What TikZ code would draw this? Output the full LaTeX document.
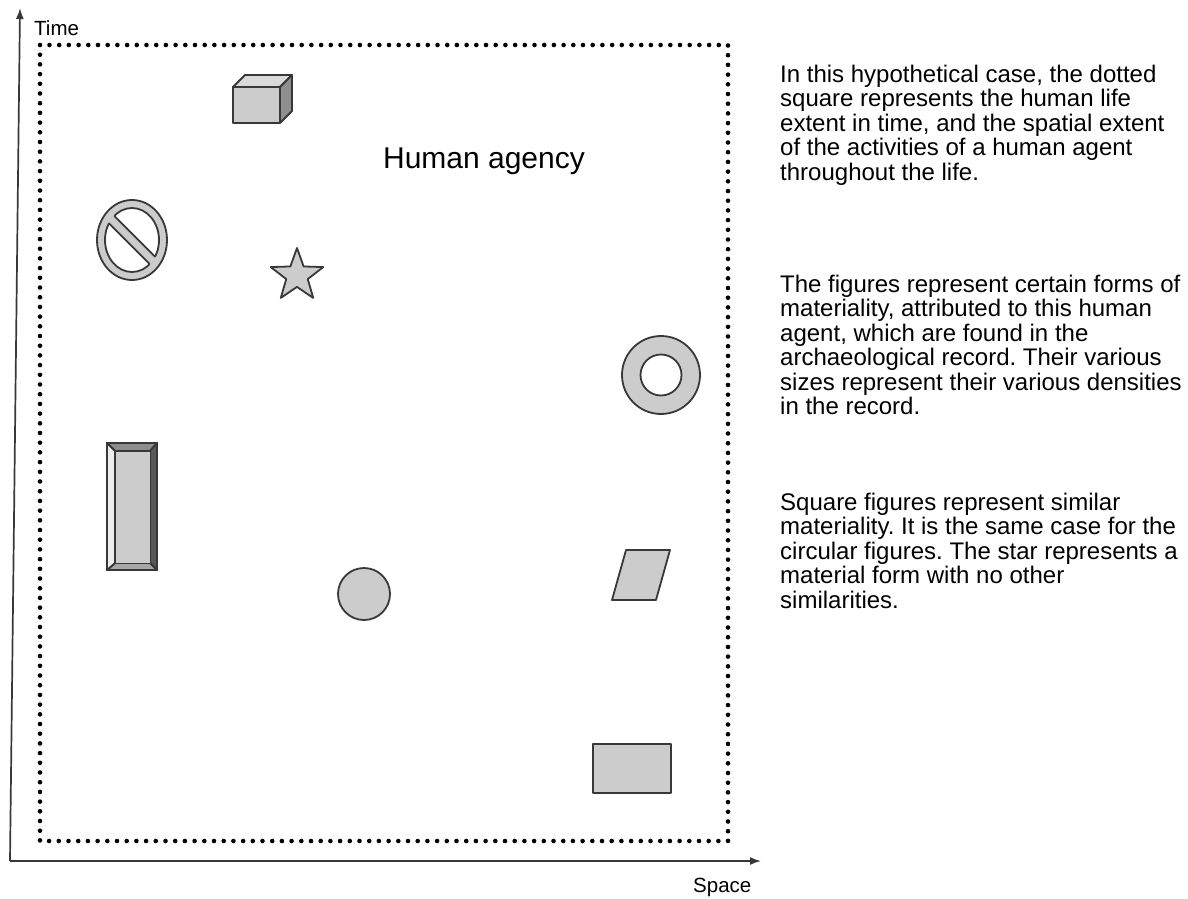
\documentclass[tikz,border=0pt]{standalone}
\usepackage{fontspec}
\setmainfont{Liberation Sans}
\usetikzlibrary{arrows.meta}
\definecolor{shapefill}{HTML}{CCCCCC}
\definecolor{edgecol}{HTML}{383838}
\definecolor{axiscol}{HTML}{383838}
\frenchspacing
\begin{document}
\begin{tikzpicture}[x=1pt,y=-1pt,
  figure/.style={fill=shapefill,draw=edgecol,line width=1.8pt,line join=round},
  axisline/.style={draw=axiscol,line width=1.7pt,-{Latex[length=11pt,width=8pt]}},
  lifebox/.style={draw=black,line width=4.6pt,line cap=round,dash pattern=on 0pt off 9.7pt},
  note/.style={anchor=north west,align=left,inner sep=0pt,font=\fontsize{24}{24.5}\selectfont},
  axislabel/.style={anchor=base west,inner sep=0pt,font=\fontsize{20.5}{20.5}\selectfont}]
\useasboundingbox (0,0) rectangle (1188,899);

% axes
\coordinate (origin) at (10,861);
\coordinate (tend) at (20,8);
\coordinate (send) at (761,861);
\draw[axisline] (origin) -- (tend);
\draw[axisline] (origin) -- (send);
\node[axislabel] (time) at (34,36) {Time};
\node[axislabel] (space) at (693,892) {Space};

% extent of a human life in time and space
\draw[lifebox] (40,45) rectangle (728,841);
\node[font=\fontsize{30}{30}\selectfont,inner sep=0pt] (agency) at (484,161) {Human agency};

% cube
\filldraw[figure,fill=shapefill!75!white] (233,87) -- (245,75) -- (292,75) -- (280,87) -- cycle;
\filldraw[figure,fill=shapefill!70!black] (280,87) -- (292,75) -- (292,111) -- (280,123) -- cycle;
\filldraw[figure] (233,87) rectangle (280,123);

% prohibition sign
\filldraw[figure,even odd rule] (132,240) ellipse [x radius=35pt,y radius=40pt]
  (132,240) ellipse [x radius=27pt,y radius=32pt];
\begin{scope}
  \clip (132,240) ellipse [x radius=28.2pt,y radius=33.2pt];
  \fill[shapefill] (99.8,201.5) -- (170.5,272.2) -- (164.2,278.5) -- (93.5,207.8) -- cycle;
\end{scope}
\begin{scope}
  \clip (132,240) ellipse [x radius=27pt,y radius=32pt];
  \draw[edgecol,line width=1.8pt] (99.8,201.5) -- (170.5,272.2);
  \draw[edgecol,line width=1.8pt] (93.5,207.8) -- (164.2,278.5);
\end{scope}

% star
\filldraw[figure] (297,275.6) +(270:27.6) -- +(306:11.3) -- +(342:27.6) -- +(18:11.3)
  -- +(54:27.6) -- +(90:11.3) -- +(126:27.6) -- +(162:11.3) -- +(198:27.6) -- +(234:11.3) -- cycle;

% ring
\filldraw[figure,even odd rule] (661,375) circle [radius=39pt] (661,375) circle [radius=20.5pt];

% bevelled slab
\filldraw[figure,fill=black!45] (107,443) -- (157,443) -- (150,451) -- (115,451) -- cycle;
\filldraw[figure,fill=black!65] (157,443) -- (157,570) -- (150,563) -- (150,451) -- cycle;
\filldraw[figure,fill=black!35] (107,570) -- (157,570) -- (150,563) -- (115,563) -- cycle;
\filldraw[figure,fill=black!7] (107,443) -- (115,451) -- (115,563) -- (107,570) -- cycle;
\filldraw[figure,line width=1pt] (115,451) rectangle (150,563);
\draw[edgecol,line width=1.8pt] (107,443) rectangle (157,570);

% disc
\filldraw[figure] (364,594) circle [radius=26pt];

% parallelogram
\filldraw[figure] (626,550) -- (670,550) -- (656,600) -- (612,600) -- cycle;

% rectangle
\filldraw[figure] (593,744) rectangle (671,793);

% explanatory notes
\node[note] (notea) at (780,64.5) {In this hypothetical case, the dotted\\square represents the human life\\extent in time, and the spatial extent\\of the activities of a human agent\\throughout the life.};
\node[note] (noteb) at (780,274.5) {The figures represent certain forms of\\materiality, attributed to this human\\agent, which are found in the\\archaeological record. Their various\\sizes represent their various densities\\in the record.};
\node[note] (notec) at (780,492.5) {Square figures represent similar\\materiality. It is the same case for the\\circular figures. The star represents a\\material form with no other\\similarities.};
\end{tikzpicture}
\end{document}
